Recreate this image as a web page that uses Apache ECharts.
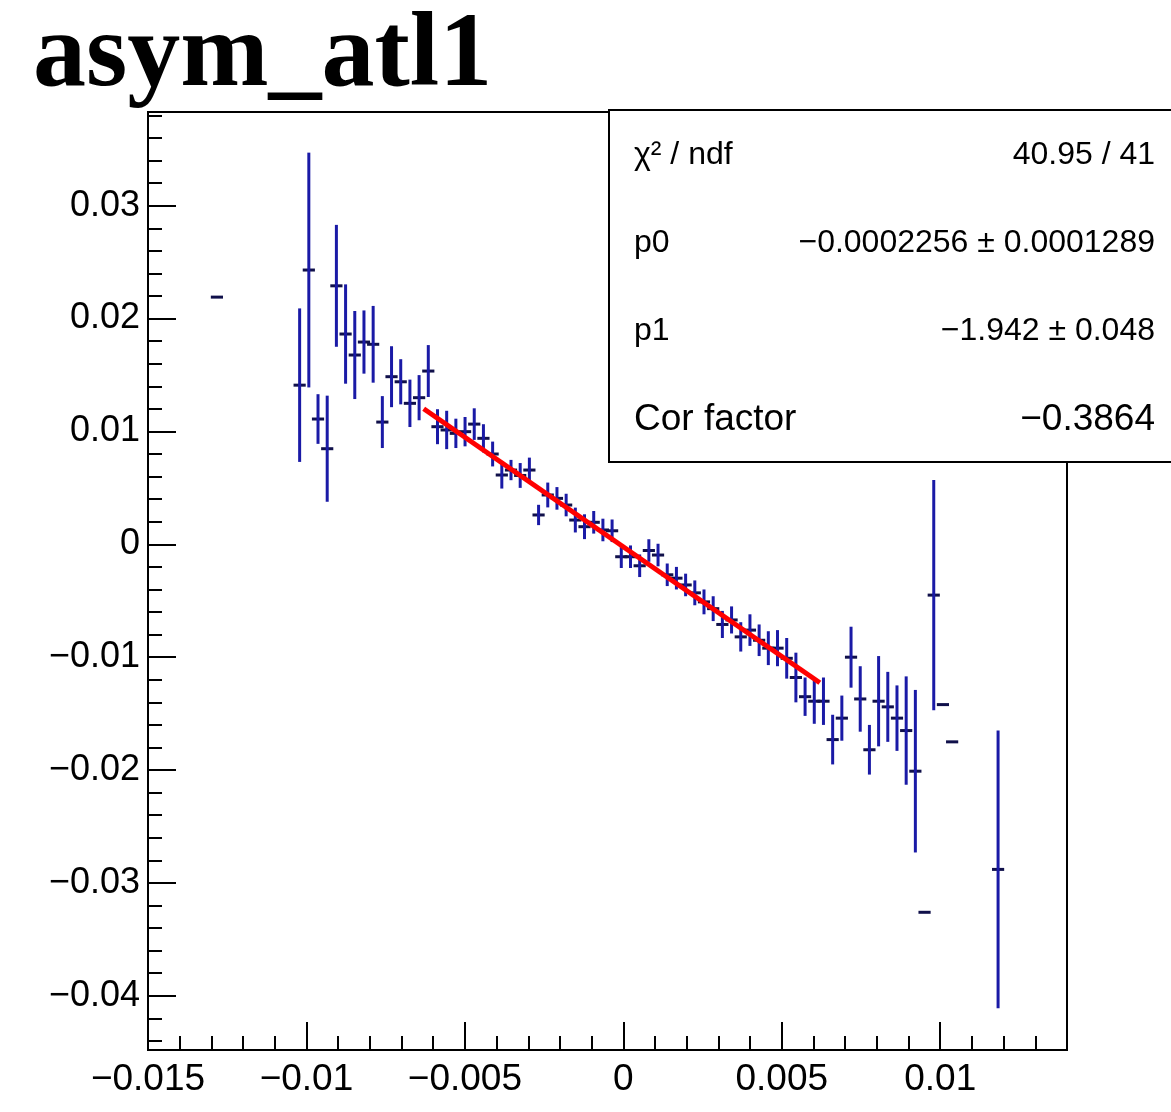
<!DOCTYPE html>
<html><head><meta charset="utf-8">
<script src="https://cdn.jsdelivr.net/npm/echarts@6/dist/echarts.min.js"></script>
<style>html,body{margin:0;padding:0;background:#fff}#c{width:1171px;height:1112px}</style>
</head><body><div id="c"></div>
<script>
// ---- data ----
const binCenters = [
  -0.012825, -0.010215, -0.009925, -0.009635, -0.009345, -0.009055, -0.008765, -0.008475,
  -0.008185, -0.007895, -0.007605, -0.007315, -0.007025, -0.006735, -0.006445, -0.006155,
  -0.005865, -0.005575, -0.005285, -0.004995, -0.004705, -0.004415, -0.004125, -0.003835,
  -0.003545, -0.003255, -0.002965, -0.002675, -0.002385, -0.002095, -0.001805, -0.001515,
  -0.001225, -0.000935, -0.000645, -0.000355, -0.000065, 0.000225, 0.000515, 0.000805,
  0.001095, 0.001385, 0.001675, 0.001965, 0.002255, 0.002545, 0.002835, 0.003125,
  0.003415, 0.003705, 0.003995, 0.004285, 0.004575, 0.004865, 0.005155, 0.005445,
  0.005735, 0.006025, 0.006315, 0.006605, 0.006895, 0.007185, 0.007475, 0.007765,
  0.008055, 0.008345, 0.008635, 0.008925, 0.009215, 0.009505, 0.009795, 0.010085,
  0.010375, 0.011825
];
const values = [
  0.0219, 0.0141, 0.0243, 0.0111, 0.00847, 0.0229, 0.01863, 0.01677,
  0.01792, 0.01772, 0.01083, 0.01485, 0.0144, 0.01249, 0.01299, 0.01535,
  0.01042, 0.01013, 0.00983, 0.00998, 0.01065, 0.00939, 0.0080, 0.00614,
  0.00658, 0.0061, 0.00658, 0.0026, 0.00437, 0.00407, 0.00348, 0.00215,
  0.00156, 0.00195, 0.00127, 0.0012, -0.0011, -0.0011, -0.0019, -0.00055,
  -0.00095, -0.0027, -0.0030, -0.0036, -0.0043, -0.0051, -0.0057, -0.0071,
  -0.0067, -0.0082, -0.0076, -0.0085, -0.0092, -0.0092, -0.0101, -0.0118,
  -0.0135, -0.0139, -0.0139, -0.0173, -0.0154, -0.0100, -0.0137, -0.0182,
  -0.0139, -0.0144, -0.0154, -0.0165, -0.0201, -0.0326, -0.0045, -0.0142,
  -0.0175, -0.0288
];
const errors = [
  0, 0.0068, 0.0104, 0.0022, 0.0047, 0.0054, 0.0044, 0.0039,
  0.0028, 0.0034, 0.0023, 0.0027, 0.0020, 0.0021, 0.0020, 0.0023,
  0.00155, 0.0017, 0.0013, 0.0013, 0.0014, 0.00125, 0.0011, 0.0012,
  0.0009, 0.0011, 0.0011, 0.0009, 0.0011, 0.0010, 0.0010, 0.0011,
  0.0011, 0.0010, 0.0010, 0.0010, 0.0010, 0.0010, 0.0010, 0.0010,
  0.0010, 0.0010, 0.0010, 0.0010, 0.0011, 0.0011, 0.0011, 0.0012,
  0.0012, 0.0013, 0.0014, 0.0014, 0.0015, 0.0016, 0.0018, 0.0022,
  0.0017, 0.0020, 0.0021, 0.0022, 0.0020, 0.0027, 0.0029, 0.0022,
  0.0040, 0.0031, 0.0029, 0.0048, 0.0072, 0, 0.0102, 0,
  0, 0.0123
];
const halfBinWidth = 0.000145;
const fitX = [-0.0063, 0.0062];
const fitY = [0.012009, -0.012266];
const xMajorTicks = [-0.015, -0.01, -0.005, 0, 0.005, 0.01];
const xMinorTicks = [-0.014, -0.013, -0.012, -0.011, -0.009, -0.008, -0.007, -0.006,
  -0.004, -0.003, -0.002, -0.001, 0.001, 0.002, 0.003, 0.004, 0.006, 0.007, 0.008, 0.009,
  0.011, 0.012, 0.013];
const yMajorTicks = [-0.04, -0.03, -0.02, -0.01, 0, 0.01, 0.02, 0.03];
const yMinorTicks = [-0.044, -0.042, -0.038, -0.036, -0.034, -0.032, -0.028, -0.026, -0.024, -0.022,
  -0.018, -0.016, -0.014, -0.012, -0.008, -0.006, -0.004, -0.002, 0.002, 0.004, 0.006, 0.008,
  0.012, 0.014, 0.016, 0.018, 0.022, 0.024, 0.026, 0.028, 0.032, 0.034, 0.036, 0.038];
const titleText = 'asym_atl1';
const statsNames = ['χ² / ndf', 'p0', 'p1', 'Cor factor'];
const statsValues = ['40.95 / 41', '−0.0002256 ± 0.0001289', '−1.942 ± 0.048', '−0.3864'];

// ---- chart ----
const X_MIN = -0.015, X_MAX = 0.014, Y_MIN = -0.0448, Y_MAX = 0.0383;
const FONT = '"Liberation Sans", Arial, sans-serif';
const fmt = v => {
  if (Math.abs(v) < 1e-12) return '0';
  return String(parseFloat(Number(v).toPrecision(6))).replace('-', '\u2212');
};
const pts = binCenters.map((x, i) => [x, values[i], errors[i]]);
const blackLine = { color: '#000', width: 2 };

const chart = echarts.init(document.getElementById('c'), null, { renderer: 'canvas' });
const statsGraphics = [{
  type: 'rect', z: 100,
  shape: { x: 609, y: 110, width: 620, height: 352 },
  style: { fill: '#fff', stroke: '#000', lineWidth: 2 }
}];
const rowY = [155, 243, 331, 420];
const rowSize = [32, 32, 32, 37];
statsNames.forEach((n, i) => {
  statsGraphics.push({ type: 'text', z: 101, x: 634, y: rowY[i],
    style: { text: n, font: rowSize[i] + 'px ' + FONT, fill: '#000', align: 'left', verticalAlign: 'middle' } });
  statsGraphics.push({ type: 'text', z: 101, x: 1155, y: rowY[i],
    style: { text: statsValues[i], font: rowSize[i] + 'px ' + FONT, fill: '#000', align: 'right', verticalAlign: 'middle' } });
});

chart.setOption({
  animation: false,
  backgroundColor: '#fff',
  grid: { left: 148, right: 104, top: 112, bottom: 62, show: true, borderColor: '#000', borderWidth: 2, backgroundColor: 'transparent' },
  xAxis: [{
    type: 'value', min: X_MIN, max: X_MAX, position: 'bottom',
    axisLine: { onZero: false, lineStyle: blackLine },
    axisTick: { inside: true, length: 28, customValues: xMajorTicks, lineStyle: blackLine },
    axisLabel: { customValues: xMajorTicks, formatter: fmt, fontSize: 37, fontFamily: FONT, color: '#000', margin: 11 },
    splitLine: { show: false }
  }, {
    type: 'value', min: X_MIN, max: X_MAX, position: 'bottom',
    axisLine: { show: false, onZero: false },
    axisTick: { inside: true, length: 14, customValues: xMinorTicks, lineStyle: blackLine },
    axisLabel: { show: false }, splitLine: { show: false }
  }],
  yAxis: [{
    type: 'value', min: Y_MIN, max: Y_MAX, position: 'left',
    axisLine: { onZero: false, lineStyle: blackLine },
    axisTick: { inside: true, length: 28, customValues: yMajorTicks, lineStyle: blackLine },
    axisLabel: { customValues: yMajorTicks, formatter: fmt, fontSize: 36, fontFamily: FONT, color: '#000', margin: 8 },
    splitLine: { show: false }
  }, {
    type: 'value', min: Y_MIN, max: Y_MAX, position: 'left',
    axisLine: { show: false, onZero: false },
    axisTick: { inside: true, length: 14, customValues: yMinorTicks, lineStyle: blackLine },
    axisLabel: { show: false }, splitLine: { show: false }
  }],
  series: [{
    type: 'custom', xAxisIndex: 0, yAxisIndex: 0, clip: true,
    data: pts,
    encode: { x: 0, y: 1 },
    renderItem: (params, api) => {
      const x = api.value(0), y = api.value(1), e = api.value(2);
      const l = api.coord([x - halfBinWidth, y]);
      const r = api.coord([x + halfBinWidth, y]);
      const children = [{
        type: 'line', shape: { x1: l[0], y1: l[1], x2: r[0], y2: r[1] },
        style: { stroke: '#10104a', lineWidth: 3, lineCap: 'square' }
      }];
      if (e > 0) {
        const t = api.coord([x, y + e]);
        const b = api.coord([x, y - e]);
        children.push({
          type: 'line', shape: { x1: t[0], y1: t[1], x2: b[0], y2: b[1] },
          style: { stroke: '#1a1aa6', lineWidth: 3 }
        });
      }
      return { type: 'group', children };
    }
  }, {
    type: 'line', xAxisIndex: 0, yAxisIndex: 0, symbol: 'none', z: 5,
    data: fitX.map((x, i) => [x, fitY[i]]),
    lineStyle: { color: '#ff0000', width: 5 }
  }],
  graphic: [{
    type: 'text', x: 33, y: 58, z: 100,
    style: { text: titleText, font: 'bold 106px "Liberation Serif", "Times New Roman", serif', fill: '#000', align: 'left', verticalAlign: 'middle' }
  }].concat(statsGraphics)
});
</script>
</body></html>
